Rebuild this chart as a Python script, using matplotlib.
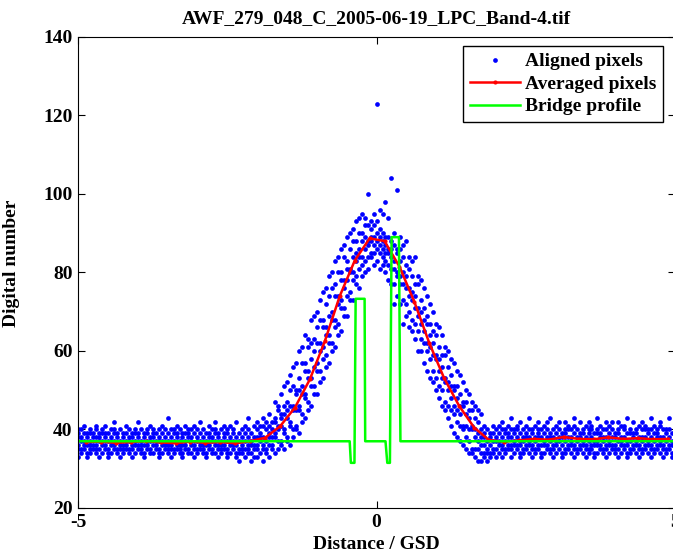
import numpy as np
import matplotlib
matplotlib.use("Agg")
import matplotlib.pyplot as plt

plt.rcParams['font.family'] = ['Liberation Serif', 'DejaVu Serif']
plt.rcParams['font.weight'] = 'bold'
plt.rcParams['font.size'] = 14
plt.rcParams['axes.unicode_minus'] = False

# aligned pixels: one column every 0.05 GSD from -5 to 5, y values per column
aligned_x = np.round(np.arange(-5.0, 5.0001, 0.05), 2)
aligned_y = [
    "33 35 36 38 39 40", "34 35 37 38 40", "35 36 37 39 41", "33 34 36 38 39",
    "34 35 36 37 39 40", "35 36 38 39", "34 35 36 38 40 41", "33 35 37 38 39",
    "34 36 37 39 40", "35 36 38 39 41", "33 34 35 37 39", "34 36 37 38 40",
    "35 36 37 39 40 42", "34 35 38 39", "33 35 36 37 40", "34 35 36 38 39",
    "35 36 37 39 41", "34 35 37 38 40", "33 35 36 38 39", "34 36 37 39 40",
    "35 36 38 39 42", "34 35 36 37 40", "33 34 36 38 39", "35 36 37 39 40",
    "34 35 37 38 41", "34 36 38 39 40", "35 36 37 39", "33 34 35 37 38 40",
    "34 36 37 39 41", "35 36 38 40", "34 35 36 37 39 43", "33 35 36 38 40",
    "34 35 37 39 40", "35 36 38 39 41", "34 35 36 37 40", "33 34 36 38 39",
    "35 36 37 39 41", "34 35 38 39 40", "34 36 37 38 40", "33 35 36 39 41",
    "34 35 37 38 40", "35 36 37 39 42", "34 35 36 38 40", "33 34 36 37 39",
    "35 36 38 39 41", "34 35 37 38 40", "34 36 37 39 40 42", "33 35 36 38 39",
    "34 35 36 37 40", "35 36 38 39 41", "33 34 35 37 39 40", "34 36 37 38 41",
    "35 36 37 39 40", "33 34 36 38 42", "32 34 35 37 39", "34 35 36 38 40",
    "33 35 37 39 41", "34 35 36 38 40 43", "32 34 36 37 39", "33 35 36 38 41",
    # rising edge
    "33 35 36 38 40 42", "34 37 38 39 41", "32 35 36 38 41 43", "34 35 37 40 42",
    "33 36 38 39 41 44", "35 36 38 40 42", "34 38 39 42 43 47", "35 37 40 41 45 46",
    "36 37 41 43 44 49", "35 39 40 44 46 51", "37 38 43 45 47 52", "36 41 42 46 50 54",
    "38 40 45 46 51 56", "40 41 45 49 50 57", "39 45 46 50 53 60", "42 44 49 51 57 61",
    "43 48 49 55 57 64", "45 47 53 55 61 63", "46 51 53 58 62 68", "49 51 56 60 63 69",
    "49 55 57 62 66 70", "52 55 60 62 68 73", "53 58 61 66 68 75", "56 59 64 66 72 76",
    "57 62 64 69 74 79", "60 62 68 70 76 80", "61 66 68 74 77 83", "64 67 72 74 80 84",
    "65 71 73 78 80 86", "69 71 76 78 84 87", "69 74 78 81 83 89", "73 75 80 81 86 90",
    "73 78 80 84 88 91", "77 79 83 85 88 93", "76 81 84 86 90 94", "79 82 84 88 90 95",
    "80 83 86 89 92 94", "81 84 87 88 92 100", "84 85 88 89 91 93", "82 85 87 89 92 95",
    # peak and falling edge
    "83 86 88 90 93 123", "81 85 87 89 91 96", "82 84 86 88 90 95", "80 83 85 87 89 98",
    "78 82 85 86 89 94", "77 81 84 86 88 104", "72 77 81 83 87 90", "74 79 80 85 86 101",
    "72 77 79 83 86 89", "67 73 77 80 84 87", "69 72 76 79 82 88", "66 70 74 76 81 84",
    "65 68 73 75 79 83", "63 67 71 74 77 84", "60 65 69 71 77 79", "60 63 67 70 73 78",
    "57 62 65 68 71 76", "55 60 62 67 69 74", "53 58 61 64 67 72", "52 55 59 62 65 70",
    "50 53 58 59 64 67", "48 51 55 58 61 66", "46 50 53 56 59 64", "45 47 52 53 59 61",
    "43 46 50 52 56 60", "41 45 48 51 54 58", "39 44 46 50 51 57", "38 42 45 48 51 55",
    "37 41 44 46 49 54", "36 40 41 46 47 52", "35 38 41 44 47 50", "34 37 40 43 45 49",
    "34 35 40 41 45 47", "33 35 38 40 43 46", "32 35 37 39 42 45", "32 34 36 38 40 44",
    "33 34 36 38 39 41", "32 34 35 37 40", "33 34 36 38 39", "34 35 37 39 41",
    # right baseline
    "33 35 37 38 40", "34 36 37 39 41", "33 35 36 38 40 42", "34 35 37 39 40",
    "35 36 38 39 41", "33 35 36 38 40 43", "34 36 37 39 40", "35 36 38 40 41",
    "33 34 36 37 39 42", "34 35 37 38 40", "35 36 38 39 41", "34 36 37 38 40 43",
    "33 35 36 39 40", "34 35 37 38 41", "35 36 38 39 40 42", "33 34 36 38 40",
    "34 36 37 39 41", "35 36 38 40 42", "34 35 37 38 39 43", "33 35 36 38 40",
    "34 36 37 39 41", "35 37 38 40 42", "33 34 36 38 39", "34 35 37 39 40 42",
    "35 36 38 40 41", "34 36 37 38 40", "33 35 36 39 41 43", "34 35 37 38 40",
    "35 36 38 39 42", "34 36 37 39 40", "33 35 36 38 41", "34 35 37 39 40 42",
    "35 36 38 40 41", "33 34 36 37 39", "34 36 37 39 40 43", "35 36 38 39 41",
    "34 35 37 38 40", "33 35 36 38 40 42", "34 36 37 39 41", "35 36 38 40 42",
    "34 35 36 38 39", "33 35 37 39 40 42", "34 36 37 38 41", "35 36 38 40 41",
    "33 34 36 37 39 43", "34 35 37 39 40", "35 36 38 39 42", "34 36 37 39 40",
    "33 35 36 38 41", "34 35 37 38 40 42", "35 36 38 40 41", "34 36 37 39 40",
    "33 35 36 38 40 43", "34 35 37 39 41", "35 36 38 39 40", "34 36 37 38 41 42",
    "33 35 36 38 40", "34 35 37 39 40", "35 36 38 40 43", "33 34 36 37 39",
    "34 36 37 39 41",
]

# averaged pixels
avg_x = [-4.866, -4.616, -4.366, -4.116, -3.866, -3.616, -3.366, -3.116, -2.866, -2.616,
         -2.366, -2.116, -1.866, -1.616, -1.366, -1.116, -0.866, -0.616, -0.366, -0.116,
         0.134, 0.384, 0.634, 0.884, 1.134, 1.384, 1.634, 1.884, 2.134, 2.384,
         2.634, 2.884, 3.134, 3.384, 3.634, 3.884, 4.134, 4.384, 4.634, 4.884]
avg_y = [36.8, 36.9, 36.6, 36.8, 37.0, 36.7, 36.5, 36.9, 36.6, 36.8,
         36.5, 37.0, 37.9, 40.8, 45.6, 52.8, 62.5, 74.0, 83.0, 88.7,
         88.0, 81.5, 72.5, 62.0, 53.0, 46.0, 40.5, 37.3, 36.9, 37.2,
         37.6, 37.4, 38.1, 37.6, 37.5, 38.0, 37.6, 37.8, 37.5, 37.6]

# bridge profile
bridge_x = [-5.0, -0.45, -0.43, -0.37, -0.35, -0.20, -0.19, 0.15, 0.18, 0.224, 0.252, 0.375, 0.40, 5.0]
bridge_y = [37.0, 37.0, 31.5, 31.5, 73.3, 73.3, 37.0, 37.0, 31.5, 31.5, 89.0, 89.0, 37.0, 37.0]

px, py = [], []
for xc, col in zip(aligned_x, aligned_y):
    for v in col.split():
        px.append(xc)
        py.append(float(v))

fig = plt.figure(figsize=(6.73, 5.53), dpi=100)
ax = fig.add_axes([0.1159, 0.0814, 0.8872, 0.8517])

ax.plot(px, py, 'o', color=(0, 0, 1), markersize=3.4, markeredgewidth=0, label='Aligned pixels')
ax.plot(avg_x, avg_y, '-', color=(1, 0, 0), linewidth=1.8, marker='.', markersize=4,
        label='Averaged pixels')
ax.plot(bridge_x, bridge_y, '-', color=(0, 1, 0), linewidth=1.8, label='Bridge profile')

ax.set_xlim(-5, 5)
ax.set_ylim(20, 140)
ax.set_xticks([-5, 0, 5])
ax.set_yticks([20, 40, 60, 80, 100, 120, 140])
ax.tick_params(direction='in', length=5, width=0.8, top=True, right=True, pad=4)

ax.set_title('AWF_279_048_C_2005-06-19_LPC_Band-4.tif', fontsize=14, fontweight='bold', pad=10)
ax.set_xlabel('Distance / GSD', fontsize=14, fontweight='bold', labelpad=4)
ax.set_ylabel('Digital number', fontsize=14, fontweight='bold')
ax.yaxis.set_label_coords(-0.097, 0.52)

leg = ax.legend(loc='upper right', bbox_to_anchor=(0.98, 0.981), borderaxespad=0,
                fancybox=False, framealpha=1, edgecolor='black', fontsize=14,
                handlelength=2.6, handletextpad=0.25, labelspacing=0.25, borderpad=0.35)
leg.get_frame().set_linewidth(1.0)

fig.savefig('out.png', dpi=100)
